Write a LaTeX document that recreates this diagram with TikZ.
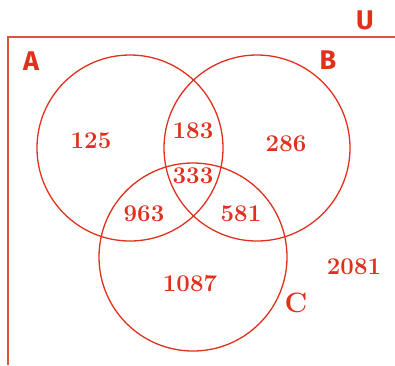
\documentclass[tikz,border=0pt]{standalone}
\usepackage{fontspec}
\usepackage{xcolor}
\usepackage{tikz}
\newfontfamily\labelfont{Fira Sans}
\definecolor{vennRed}{HTML}{E0301E}
\definecolor{frameRed}{HTML}{E0503E}

\begin{document}
\begin{tikzpicture}[x=1pt, y=-1pt,
    setcircle/.style={vennRed, line width=1.3pt},
    count/.style={vennRed, font=\fontsize{24}{24}\selectfont\bfseries},
    setname/.style={vennRed, font=\fontsize{27}{27}\selectfont\labelfont\bfseries}]
    \useasboundingbox (0,0) rectangle (395,365);
    % universe frame: top and left sides only
    \draw[frameRed, line width=2pt] (395,37) -- (8,37) -- (8,365);
    \node[setname] (U) at (365,20) {U};
    % the three sets
    \draw[setcircle] (130,148) circle (93);
    \draw[setcircle] (257,148) circle (93);
    \draw[setcircle] (193,257) circle (94);
    \node[setname] (A) at (31,61) {A};
    \node[setname] (B) at (328,60) {B};
    \node[setname, font=\fontsize{28}{28}\selectfont\bfseries] (C) at (296,303) {C};
    % region counts
    \node[count] (onlyA) at (91,141) {125};
    \node[count] (AB) at (193,131) {183};
    \node[count] (onlyB) at (286,144) {286};
    \node[count] (ABC) at (193,176) {333};
    \node[count] (AC) at (144,214) {963};
    \node[count] (BC) at (241,214) {581};
    \node[count] (onlyC) at (190,284) {1087};
    \node[count] (none) at (354,267) {2081};
\end{tikzpicture}
\end{document}
